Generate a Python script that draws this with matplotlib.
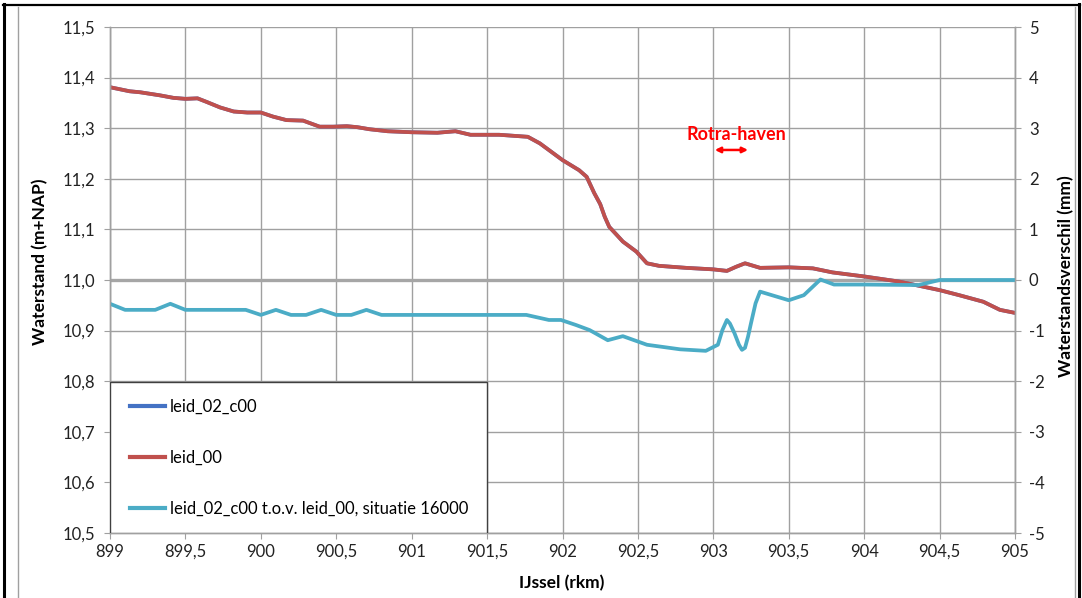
import matplotlib.pyplot as plt
from matplotlib.lines import Line2D
from matplotlib.patches import Rectangle
from matplotlib.ticker import FuncFormatter, MultipleLocator

plt.rcParams['font.family'] = ['Lato', 'DejaVu Sans']

# waterstand langs de IJssel (m+NAP), referentie leid_00
rkm_ref = [899.0, 899.13, 899.2, 899.33, 899.42, 899.5, 899.58, 899.64, 899.73, 899.82,
           899.91, 900.0, 900.08, 900.17, 900.28, 900.39, 900.48, 900.57, 900.64, 900.72,
           900.84, 901.0, 901.17, 901.29, 901.39, 901.58, 901.77, 901.85, 902.0, 902.11,
           902.16, 902.21, 902.25, 902.28, 902.31, 902.36, 902.4, 902.49, 902.56, 902.64,
           902.82, 903.0, 903.09, 903.15, 903.21, 903.31, 903.5, 903.66, 903.79, 904.0,
           904.23, 904.5, 904.63, 904.79, 904.9, 905.0]
leid_00 = [11.381, 11.373, 11.371, 11.365, 11.360, 11.358, 11.359, 11.352, 11.341, 11.333,
           11.331, 11.331, 11.323, 11.316, 11.315, 11.303, 11.303, 11.304, 11.302, 11.298,
           11.294, 11.292, 11.291, 11.294, 11.287, 11.287, 11.283, 11.270, 11.237, 11.217,
           11.204, 11.172, 11.150, 11.125, 11.105, 11.089, 11.076, 11.056, 11.033, 11.028,
           11.024, 11.021, 11.018, 11.026, 11.033, 11.024, 11.025, 11.023, 11.015, 11.007,
           10.997, 10.980, 10.970, 10.957, 10.941, 10.935]

# leid_02_c00 valt vrijwel samen met leid_00 (verschil in mm)
leid_02_c00 = list(leid_00)

# verschil leid_02_c00 t.o.v. leid_00 (mm)
rkm_diff = [899.0, 899.1, 899.2, 899.3, 899.4, 899.5, 899.6, 899.7, 899.8, 899.9,
            900.0, 900.1, 900.2, 900.3, 900.4, 900.5, 900.6, 900.7, 900.8, 900.9,
            901.0, 901.2, 901.45, 901.76, 901.91, 901.99, 902.09, 902.18, 902.3, 902.4,
            902.56, 902.78, 902.95, 903.03, 903.06, 903.09, 903.11, 903.14, 903.17, 903.19,
            903.21, 903.23, 903.25, 903.28, 903.31, 903.5, 903.6, 903.71, 903.8, 904.0,
            904.36, 904.5, 904.7, 905.0]
verschil = [-0.47, -0.59, -0.59, -0.59, -0.47, -0.59, -0.59, -0.59, -0.59, -0.59,
            -0.69, -0.59, -0.69, -0.69, -0.59, -0.69, -0.69, -0.59, -0.69, -0.69,
            -0.69, -0.69, -0.69, -0.69, -0.79, -0.79, -0.89, -0.99, -1.19, -1.11,
            -1.28, -1.37, -1.40, -1.28, -0.99, -0.79, -0.86, -1.05, -1.28, -1.38,
            -1.34, -1.12, -0.85, -0.46, -0.23, -0.40, -0.30, 0.01, -0.09, -0.09,
            -0.10, 0.0, 0.0, 0.0]

labels = ['leid_02_c00', 'leid_00', 'leid_02_c00 t.o.v. leid_00, situatie 16000']
colors = ['#4472C4', '#C0504D', '#4BACC6']

W, H = 1082, 598
fig = plt.figure(figsize=(W / 100, H / 100), dpi=100)

# kaders om de figuur
fig.add_artist(Line2D([18 / W, 18 / W], [0, 1 - 7 / H], color='#A0A0A0', lw=1))
fig.add_artist(Line2D([1075 / W, 1075 / W], [0, 1 - 7 / H], color='#A0A0A0', lw=1))
fig.add_artist(Line2D([4 / W, 4 / W], [0, 1 - 4 / H], color='black', lw=2.2))
fig.add_artist(Line2D([1079 / W, 1079 / W], [0, 1 - 4 / H], color='black', lw=2.2))
fig.add_artist(Line2D([3 / W, 1080 / W], [1 - 4.5 / H, 1 - 4.5 / H], color='black', lw=1.6))

ax = fig.add_axes([110 / W, 1 - 533 / H, 905 / W, 506 / H])
ax2 = ax.twinx()

grid_c = '#A0A0A0'
ax.set_xlim(899, 905)
ax.set_ylim(10.5, 11.5)
ax2.set_ylim(-5, 5)
ax.xaxis.set_major_locator(MultipleLocator(0.5))
ax.yaxis.set_major_locator(MultipleLocator(0.1))
ax2.yaxis.set_major_locator(MultipleLocator(1))
ax.grid(True, color=grid_c, lw=1.0)
ax.set_axisbelow(True)

comma = FuncFormatter(lambda v, p: ('%g' % round(v, 2)).replace('.', ','))
ax.xaxis.set_major_formatter(comma)
ax.yaxis.set_major_formatter(FuncFormatter(lambda v, p: ('%.1f' % v).replace('.', ',')))
ax2.yaxis.set_major_formatter(FuncFormatter(lambda v, p: '%d' % round(v)))

for a in (ax, ax2):
    for s in a.spines.values():
        s.set_color(grid_c)
        s.set_linewidth(1.0)
    a.spines['top'].set_visible(False)
    a.tick_params(direction='out', length=4, width=0.8, color=grid_c,
                  labelsize=12, labelcolor='#222222')
ax.tick_params(axis='y', pad=7)
ax.tick_params(axis='x', pad=4)
ax2.tick_params(axis='y', pad=6)

# nul-lijn van het verschil
ax.axhline(11.0, color='#A6A6A6', lw=2.4, zorder=1.5)

line_kw = dict(lw=2.7, solid_joinstyle='round', solid_capstyle='round')
ax.plot(rkm_ref, leid_02_c00, color=colors[0], zorder=2, **line_kw)
ax.plot(rkm_ref, leid_00, color=colors[1], zorder=2.1, **line_kw)
ax2.plot(rkm_diff, verschil, color=colors[2], zorder=2, **line_kw)

# Rotra-haven
ax.text(903.15, 11.288, 'Rotra-haven', color='red', fontsize=13, fontweight='bold',
        ha='center', va='center')
ax.annotate('', xy=(903.01, 11.257), xytext=(903.23, 11.257),
            arrowprops=dict(arrowstyle='<|-|>', color='red', lw=1.8, mutation_scale=8,
                            shrinkA=0, shrinkB=0))

# legenda met eigen kader
ax2.add_patch(Rectangle((0, 0), (487 - 110) / 905, (533 - 382) / 506, transform=ax2.transAxes,
                        facecolor='white', edgecolor='#404040', lw=1.0, zorder=5))
handles = [Line2D([], [], color=c, lw=3.0) for c in colors]
leg = ax2.legend(handles, labels, loc='upper left', bbox_to_anchor=(0.022, 0.266),
                 frameon=False, fontsize=12, handlelength=2.1, handletextpad=0.3,
                 labelspacing=2.1, borderaxespad=0, borderpad=0)
leg.set_zorder(6)

fig.text(40 / W, 1 - 262 / H, 'Waterstand (m+NAP)', rotation=90, ha='center', va='center',
         fontsize=12.5, fontweight='bold')
fig.text(1066 / W, 1 - 276 / H, 'Waterstandsverschil (mm)', rotation=90, ha='center',
         va='center', fontsize=12.5, fontweight='bold')
fig.text(562 / W, 1 - 583 / H, 'IJssel (rkm)', ha='center', va='center',
         fontsize=12.5, fontweight='bold')

fig.savefig('out.png', dpi=100)
